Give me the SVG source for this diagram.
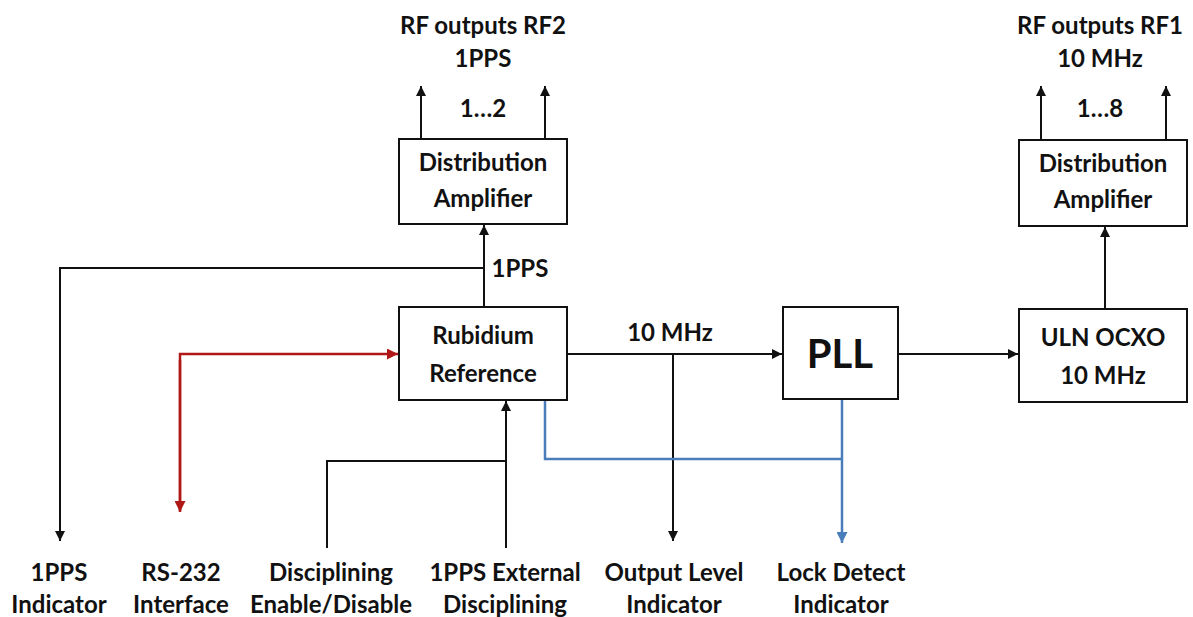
<svg xmlns="http://www.w3.org/2000/svg" width="1193" height="617" viewBox="0 0 1193 617">
  <style>
    text { font-family: "Lato", "Liberation Sans", sans-serif; font-weight: bold; fill: #111; text-anchor: middle; }
    .t { font-size: 24px; }
    .big { font-size: 40px; }
    .box { fill: #fff; stroke: #111; stroke-width: 2; }
    .k { fill: none; stroke: #111; stroke-width: 2; }
    .r { fill: none; stroke: #b01818; stroke-width: 2.5; }
    .b { fill: none; stroke: #4a7ebb; stroke-width: 2.5; }
  </style>
  <defs>
    <marker id="ak" viewBox="0 0 10 10" refX="10" refY="5" markerWidth="10" markerHeight="10" markerUnits="userSpaceOnUse" orient="auto">
      <path d="M0,0 L10,5 L0,10 z" fill="#111"/>
    </marker>
    <marker id="ar" viewBox="0 0 10 10" refX="10" refY="5" markerWidth="11" markerHeight="11" markerUnits="userSpaceOnUse" orient="auto">
      <path d="M0,0 L10,5 L0,10 z" fill="#b01818"/>
    </marker>
    <marker id="ab" viewBox="0 0 10 10" refX="10" refY="5" markerWidth="11" markerHeight="11" markerUnits="userSpaceOnUse" orient="auto">
      <path d="M0,0 L10,5 L0,10 z" fill="#4a7ebb"/>
    </marker>
  </defs>
  <rect width="1193" height="617" fill="#fff"/>

  <g id="connectors">
    <!-- outputs from left distribution amplifier -->
    <path class="k" d="M421,139 V86" marker-end="url(#ak)"/>
    <path class="k" d="M545,139 V86" marker-end="url(#ak)"/>
    <!-- outputs from right distribution amplifier -->
    <path class="k" d="M1041,140 V86" marker-end="url(#ak)"/>
    <path class="k" d="M1166,140 V86" marker-end="url(#ak)"/>
    <!-- 1PPS from rubidium to amplifier and indicator -->
    <path class="k" d="M484,307 V225" marker-end="url(#ak)"/>
    <path class="k" d="M484,268 H60 V541" marker-end="url(#ak)"/>
    <!-- RS-232 link, both directions -->
    <path class="r" d="M180,511 V354 H398" marker-end="url(#ar)"/>
    <path class="r" d="M180,360 V512" marker-end="url(#ar)"/>
    <!-- disciplining inputs -->
    <path class="k" d="M327,548 V461 H506"/>
    <path class="k" d="M506,548 V401" marker-end="url(#ak)"/>
    <!-- 10 MHz to PLL and output level -->
    <path class="k" d="M567,354 H782" marker-end="url(#ak)"/>
    <path class="k" d="M673,354 V541" marker-end="url(#ak)"/>
    <!-- PLL to OCXO -->
    <path class="k" d="M898,354 H1018" marker-end="url(#ak)"/>
    <!-- OCXO to right amplifier -->
    <path class="k" d="M1105,309 V227" marker-end="url(#ak)"/>
    <!-- lock detect -->
    <path class="b" d="M545,400 V459 H842"/>
    <path class="b" d="M842,400 V543" marker-end="url(#ab)"/>
  </g>

  <g id="dist-amp-rf2">
    <rect class="box" x="399" y="139" width="168" height="85"/>
    <text class="t" x="483" y="171">Distribution</text>
    <text class="t" x="483" y="207">Amplifier</text>
  </g>
  <g id="dist-amp-rf1">
    <rect class="box" x="1019" y="140" width="168" height="86"/>
    <text class="t" x="1103" y="172">Distribution</text>
    <text class="t" x="1103" y="208">Amplifier</text>
  </g>
  <g id="rubidium">
    <rect class="box" x="399" y="307" width="168" height="93"/>
    <text class="t" x="483" y="344">Rubidium</text>
    <text class="t" x="483" y="382">Reference</text>
  </g>
  <g id="pll">
    <rect class="box" x="783" y="307" width="115" height="92"/>
    <text class="big" x="840" y="368">PLL</text>
  </g>
  <g id="ocxo">
    <rect class="box" x="1019" y="309" width="168" height="93"/>
    <text class="t" x="1103" y="346">ULN OCXO</text>
    <text class="t" x="1103" y="384">10 MHz</text>
  </g>

  <g id="labels">
    <text class="t" x="483" y="34">RF outputs RF2</text>
    <text class="t" x="483" y="67">1PPS</text>
    <text class="t" x="483" y="117">1…2</text>
    <text class="t" x="1100" y="34">RF outputs RF1</text>
    <text class="t" x="1100" y="67">10 MHz</text>
    <text class="t" x="1100" y="117">1…8</text>
    <text class="t" x="520" y="277">1PPS</text>
    <text class="t" x="670" y="341">10 MHz</text>
    <text class="t" x="59" y="581">1PPS</text>
    <text class="t" x="59" y="613">Indicator</text>
    <text class="t" x="181" y="581">RS-232</text>
    <text class="t" x="181" y="613">Interface</text>
    <text class="t" x="331" y="581">Disciplining</text>
    <text class="t" x="331" y="613">Enable/Disable</text>
    <text class="t" x="505" y="581">1PPS External</text>
    <text class="t" x="505" y="613">Disciplining</text>
    <text class="t" x="674" y="581">Output Level</text>
    <text class="t" x="674" y="613">Indicator</text>
    <text class="t" x="841" y="581">Lock Detect</text>
    <text class="t" x="841" y="613">Indicator</text>
  </g>
</svg>
